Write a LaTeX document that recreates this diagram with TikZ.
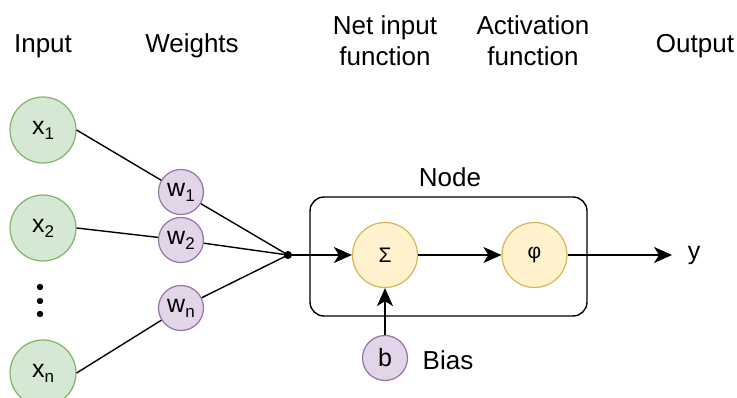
\documentclass[tikz,border=0pt]{standalone}
\usepackage{fontspec}
\setmainfont{Liberation Sans}
\usetikzlibrary{arrows.meta}
\definecolor{inpfill}{HTML}{D5E8D4}
\definecolor{inpline}{HTML}{82B366}
\definecolor{wgtfill}{HTML}{E1D5E7}
\definecolor{wgtline}{HTML}{9673A6}
\definecolor{fnfill}{HTML}{FFF2CC}
\definecolor{fnline}{HTML}{D6B656}
\newcommand\sbs[1]{\raisebox{-5pt}{\fontsize{17}{17}\selectfont #1}}
\tikzset {>={Stealth[length=18pt,width=16pt,inset=5pt]}}
\tikzset{
  hdr/.style={anchor=base,align=center,inner sep=0pt,font=\fontsize{26}{31}\selectfont},
  inp/.style={circle,draw=inpline,fill=inpfill,line width=1.2pt,minimum size=66pt,inner sep=0pt,font=\fontsize{25}{25}\selectfont},
  wgt/.style={circle,draw=wgtline,fill=wgtfill,line width=1.2pt,minimum size=45pt,inner sep=0pt,font=\fontsize{25}{25}\selectfont},
  fn/.style={circle,draw=fnline,fill=fnfill,line width=1.2pt,minimum size=65pt,inner sep=0pt,font=\fontsize{21}{21}\selectfont},
  nodebox/.style={draw,rounded corners=14pt,minimum width=277pt,minimum height=119pt,inner sep=0pt}
}

\begin{document}
\begin{tikzpicture}[x=1pt,y=-1pt,line width=1.4pt]
\useasboundingbox (0,0) rectangle (737,398);
% column titles
\node[hdr] (tInput) at (43,53) {Input};
\node[hdr] (tWeights) at (192,53) {Weights};
\node[hdr] (tNet) at (385,66) {Net input\\function};
\node[hdr] (tAct) at (533,66) {Activation\\function};
\node[hdr] (tOutput) at (695,53) {Output};
% inputs and weights
\node[inp] (x1) at (43,130) {x\sbs{1}};
\node[inp] (x2) at (43,228) {x\sbs{2}};
\node[inp] (xn) at (43,373) {x\sbs{n}};
\foreach \yy in {287,301,314} \fill (40,\yy) circle(3.2);
\node[wgt] (w1) at (181,192) {w\sbs{1}};
\node[wgt] (w2) at (181,240) {w\sbs{2}};
\node[wgt] (wn) at (181,308) {w\sbs{n}};
\coordinate (jn) at (288,255);
\fill (jn) circle(4);
% the node
\node[nodebox] (box) at (448.5,256.5) {};
\node[hdr] (tNode) at (450,187) {Node};
\node[fn] (sum) at (385,255) {Σ};
\node[fn] (act) at (534.5,255) {φ};
\node[wgt] (b) at (385,358) {b};
\node[hdr,anchor=west] (tBias) at (422,360) {Bias};
\node[font=\fontsize{25}{25}\selectfont,inner xsep=15pt,inner ysep=0pt] (yout) at (694,255) {y};
% connectors
\draw (x1.east) -- (w1) -- (jn);
\draw (x2.east) -- (w2) -- (jn);
\draw (xn.east) -- (wn) -- (jn);
\draw[->] (jn) -- (sum);
\draw[->] (sum) -- (act);
\draw[->] (act) -- (yout);
\draw[->] (b) -- (sum);
\end{tikzpicture}
\end{document}
